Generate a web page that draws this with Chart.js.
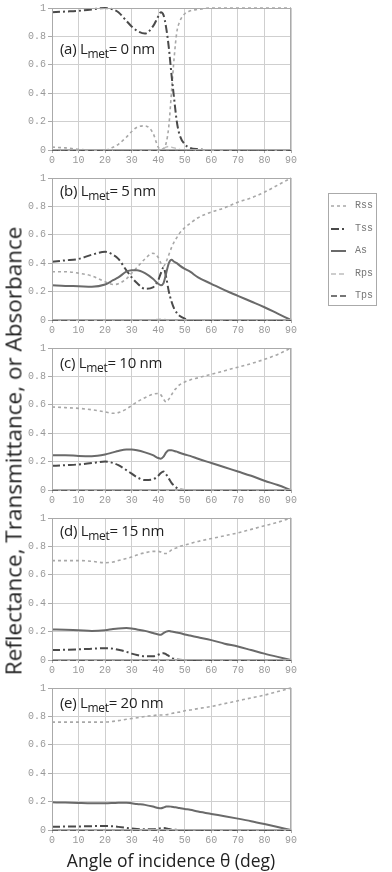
<!DOCTYPE html>
<html><head><meta charset="utf-8">
<script src="https://cdn.jsdelivr.net/npm/chart.js@4/dist/chart.umd.min.js"></script>
<style>
html,body{margin:0;padding:0;background:#fff;}
#wrap{position:relative;width:392px;height:872px;overflow:hidden;font-family:"Open Sans",sans-serif;}
canvas.p{position:absolute;left:0;}
.lab{position:absolute;left:60px;font-family:"Open Sans",sans-serif;font-size:15px;color:#222;white-space:nowrap;letter-spacing:-0.3px;}
.lab sub{font-size:12px;vertical-align:-4px;}
#ytitle{position:absolute;left:13px;top:451px;transform:translate(-50%,-50%) rotate(-90deg);font-size:22.5px;color:#222;white-space:nowrap;}
#xtitle{position:absolute;left:171px;top:860px;transform:translate(-50%,-50%);font-size:17.5px;color:#222;white-space:nowrap;}
#legend{position:absolute;left:328px;top:193px;width:49px;height:113px;border:1px solid #aaa;box-sizing:border-box;}
.li{position:absolute;left:2px;height:10px;font-family:"Liberation Mono",monospace;font-size:10px;color:#777;line-height:10px;}
.li svg{position:absolute;left:0;top:2px;}
.li span{position:absolute;left:24px;top:0;}
</style></head>
<body><div id="wrap"></div>
<script>
// Angles of incidence (deg)
const angles = [0,5,10,15,20,23,25,28,30,32,35,38,40,41,42,43,44,45,46,47,48,50,52,55,60,65,70,75,80,85,90];
const xTickLabels = ['0','10','20','30','40','50','60','70','80','90'];
const yTickLabels = ['0','0.2','0.4','0.6','0.8','1'];
const panelNames = ['(a) L','(b) L','(c) L','(d) L','(e) L'];
const panelThickness = ['0 nm','5 nm','10 nm','15 nm','20 nm'];
const seriesNames = ['Rss','Tss','As','Rps','Tps'];

// (a) Lmet = 0 nm
const rssA = [0.02,0.015,0.005,0,0,0.02,0.04,0.09,0.13,0.16,0.17,0.12,0.02,0.005,0.01,0.05,0.17,0.41,0.65,0.83,0.9,0.96,0.98,0.99,1,1,1,1,1,1,1];
const tssA = [0.97,0.975,0.98,0.99,1,0.99,0.97,0.91,0.87,0.84,0.82,0.87,0.94,0.97,0.95,0.86,0.72,0.53,0.36,0.2,0.11,0.04,0.015,0.005,0,0,0,0,0,0,0];
const asA  = [0,0,0,0,0,0,0,0,0,0,0,0,0,0,0,0,0,0,0,0,0,0,0,0,0,0,0,0,0,0,0];
const rpsA = [0,0,0,0,0,0,0,0,0,0,0,0,0,0,0.01,0.02,0.025,0.02,0.015,0.01,0.005,0,0,0,0,0,0,0,0,0,0];
const tpsA = [0,0,0,0,0,0,0,0,0,0,0,0,0,0,0,0,0,0,0,0,0,0,0,0,0,0,0,0,0,0,0];
// (b) Lmet = 5 nm
const rssB = [0.34,0.34,0.33,0.31,0.27,0.25,0.255,0.29,0.33,0.37,0.43,0.47,0.44,0.4,0.38,0.41,0.46,0.51,0.55,0.58,0.61,0.65,0.68,0.72,0.76,0.79,0.83,0.86,0.9,0.95,1];
const tssB = [0.41,0.42,0.43,0.46,0.48,0.46,0.43,0.35,0.3,0.26,0.22,0.23,0.28,0.33,0.37,0.3,0.2,0.13,0.08,0.05,0.03,0.01,0,0,0,0,0,0,0,0,0];
const asB  = [0.245,0.24,0.238,0.235,0.25,0.28,0.3,0.34,0.35,0.35,0.33,0.29,0.255,0.245,0.26,0.33,0.4,0.425,0.41,0.4,0.385,0.36,0.34,0.3,0.255,0.21,0.17,0.13,0.09,0.045,0];
const rpsB = [0,0,0,0,0,0,0,0,0,0,0,0.002,0.005,0.006,0.005,0.003,0.001,0,0,0,0,0,0,0,0,0,0,0,0,0,0];
const tpsB = [0,0,0,0,0,0,0,0,0,0,0,0,0,0,0,0,0,0,0,0,0,0,0,0,0,0,0,0,0,0,0];
// (c) Lmet = 10 nm
const rssC = [0.585,0.58,0.575,0.565,0.55,0.54,0.545,0.57,0.595,0.62,0.65,0.675,0.68,0.67,0.64,0.62,0.64,0.67,0.7,0.72,0.74,0.76,0.775,0.79,0.815,0.84,0.865,0.89,0.92,0.955,1];
const tssC = [0.17,0.175,0.18,0.19,0.2,0.19,0.175,0.14,0.115,0.09,0.07,0.075,0.1,0.12,0.13,0.11,0.08,0.05,0.03,0.015,0.005,0,0,0,0,0,0,0,0,0,0];
const asC  = [0.245,0.245,0.24,0.238,0.25,0.265,0.275,0.285,0.285,0.28,0.265,0.245,0.225,0.22,0.235,0.265,0.28,0.28,0.275,0.27,0.262,0.25,0.24,0.22,0.19,0.16,0.13,0.1,0.065,0.035,0];
const rpsC = [0,0,0,0,0,0,0,0,0,0,0,0,0,0,0,0,0,0,0,0,0,0,0,0,0,0,0,0,0,0,0];
const tpsC = [0,0,0,0,0,0,0,0,0,0,0,0,0,0,0,0,0,0,0,0,0,0,0,0,0,0,0,0,0,0,0];
// (d) Lmet = 15 nm
const rssD = [0.7,0.7,0.7,0.695,0.685,0.69,0.7,0.715,0.725,0.74,0.755,0.765,0.765,0.76,0.75,0.75,0.76,0.775,0.785,0.79,0.8,0.81,0.82,0.835,0.855,0.875,0.895,0.92,0.945,0.97,1];
const tssD = [0.07,0.072,0.075,0.08,0.083,0.08,0.072,0.058,0.045,0.035,0.026,0.026,0.037,0.045,0.048,0.04,0.028,0.016,0.008,0.004,0.002,0,0,0,0,0,0,0,0,0,0];
const asD  = [0.215,0.213,0.21,0.205,0.21,0.218,0.222,0.225,0.222,0.215,0.205,0.19,0.18,0.178,0.19,0.2,0.205,0.2,0.197,0.193,0.19,0.18,0.172,0.16,0.14,0.115,0.095,0.07,0.045,0.022,0];
const rpsD = [0,0,0,0,0,0,0,0,0,0,0,0,0,0,0,0,0,0,0,0,0,0,0,0,0,0,0,0,0,0,0];
const tpsD = [0,0,0,0,0,0,0,0,0,0,0,0,0,0,0,0,0,0,0,0,0,0,0,0,0,0,0,0,0,0,0];
// (e) Lmet = 20 nm
const rssE = [0.76,0.76,0.76,0.76,0.76,0.765,0.77,0.78,0.785,0.79,0.8,0.805,0.81,0.81,0.81,0.812,0.815,0.82,0.825,0.828,0.83,0.84,0.845,0.855,0.87,0.89,0.91,0.93,0.95,0.975,1];
const tssE = [0.023,0.024,0.025,0.027,0.028,0.026,0.022,0.015,0.01,0.007,0.005,0.006,0.01,0.013,0.014,0.011,0.007,0.004,0.002,0.001,0,0,0,0,0,0,0,0,0,0,0];
const asE  = [0.195,0.193,0.19,0.188,0.188,0.19,0.192,0.192,0.188,0.183,0.177,0.165,0.155,0.153,0.158,0.165,0.166,0.164,0.161,0.158,0.155,0.148,0.142,0.13,0.113,0.097,0.08,0.062,0.042,0.021,0];
const rpsE = [0,0,0,0,0,0,0,0,0,0,0,0,0,0,0,0,0,0,0,0,0,0,0,0,0,0,0,0,0,0,0];
const tpsE = [0,0,0,0,0,0,0,0,0,0,0,0,0,0,0,0,0,0,0,0,0,0,0,0,0,0,0,0,0,0,0];

const panels = [
  [rssA,tssA,asA,rpsA,tpsA],
  [rssB,tssB,asB,rpsB,tpsB],
  [rssC,tssC,asC,rpsC,tpsC],
  [rssD,tssD,asD,rpsD,tpsD],
  [rssE,tssE,asE,rpsE,tpsE]
];

const styles = [
  {color:'#a8a8a8', width:1.6, dash:[3,3]},        // Rss
  {color:'#4a4a4a', width:2,   dash:[8,3,2,3]},    // Tss
  {color:'#6a6a6a', width:2,   dash:[]},           // As
  {color:'#bdbdbd', width:1.3, dash:[5,3]},        // Rps
  {color:'#4a4a4a', width:1.6, dash:[6,3]}         // Tps
];
const labelTops = [38,10,12,10,12];

const wrap = document.getElementById('wrap');
const tickFont = {family:'"Liberation Mono", monospace', size:10};

panels.forEach((series, pi) => {
  const cv = document.createElement('canvas');
  cv.className = 'p';
  cv.style.top = (pi*170) + 'px';
  cv.width = 300; cv.height = 170;
  cv.style.width = '300px'; cv.style.height = '170px';
  wrap.appendChild(cv);

  const datasets = series.map((vals, si) => ({
    label: seriesNames[si],
    data: angles.map((a, i) => ({x: a, y: vals[i]})),
    borderColor: styles[si].color,
    borderWidth: styles[si].width,
    borderDash: styles[si].dash,
    pointRadius: 0,
    fill: false,
    cubicInterpolationMode: 'monotone',
    clip: 4,
    order: 5 - si
  }));

  new Chart(cv, {
    type: 'line',
    data: {datasets},
    options: {
      responsive: false,
      animation: false,
      devicePixelRatio: 1,
      layout: {padding: {top: 5, right: 9, left: 0, bottom: 0}},
      plugins: {legend: {display: false}, tooltip: {enabled: false}},
      scales: {
        x: {
          type: 'linear', min: 0, max: 90,
          ticks: {stepSize: 10, color: '#999', font: tickFont, padding: 1, maxRotation: 0,
                  callback: (v) => xTickLabels[Math.round(v/10)]},
          grid: {color: '#cfcfcf', lineWidth: 1, tickLength: 3, tickColor: '#aaa'},
          border: {display: true, color: '#999'},
          afterFit: (s) => { s.height = 20; }
        },
        y: {
          min: 0, max: 1,
          ticks: {stepSize: 0.2, color: '#999', font: tickFont, padding: 2,
                  callback: (v) => yTickLabels[Math.round(v*5)]},
          grid: {color: '#cfcfcf', lineWidth: 1, tickLength: 4, tickColor: '#aaa'},
          border: {display: true, color: '#999'},
          afterFit: (s) => { s.width = 52; }
        }
      }
    },
    plugins: [{
      id: 'frame',
      afterDraw(c) {
        const a = c.chartArea, ctx = c.ctx;
        ctx.save(); ctx.strokeStyle = '#aaa'; ctx.lineWidth = 1;
        ctx.strokeRect(a.left + 0.5, a.top + 0.5, a.right - a.left - 1, a.bottom - a.top - 1);
        ctx.restore();
      }
    }]
  });

  const lab = document.createElement('div');
  lab.className = 'lab';
  lab.style.top = (pi*170 + labelTops[pi]) + 'px';
  lab.innerHTML = panelNames[pi] + '<sub>met</sub>= ' + panelThickness[pi];
  wrap.appendChild(lab);
});

// Legend
const leg = document.createElement('div');
leg.id = 'legend';
seriesNames.forEach((n, si) => {
  const it = document.createElement('div');
  it.className = 'li';
  it.style.top = (7 + si*22.5) + 'px';
  const st = styles[si];
  it.innerHTML = '<svg width="15" height="6"><line x1="0" y1="3" x2="15" y2="3" stroke="' + st.color +
    '" stroke-width="' + st.width + '" stroke-dasharray="' + (st.dash.length ? st.dash.join(',') : 'none') + '"/></svg><span>' + n + '</span>';
  leg.appendChild(it);
});
wrap.appendChild(leg);

const yt = document.createElement('div'); yt.id = 'ytitle';
yt.textContent = 'Reflectance, Transmittance, or Absorbance';
wrap.appendChild(yt);
const xt = document.createElement('div'); xt.id = 'xtitle';
xt.textContent = 'Angle of incidence θ (deg)';
wrap.appendChild(xt);
</script>
</body></html>
